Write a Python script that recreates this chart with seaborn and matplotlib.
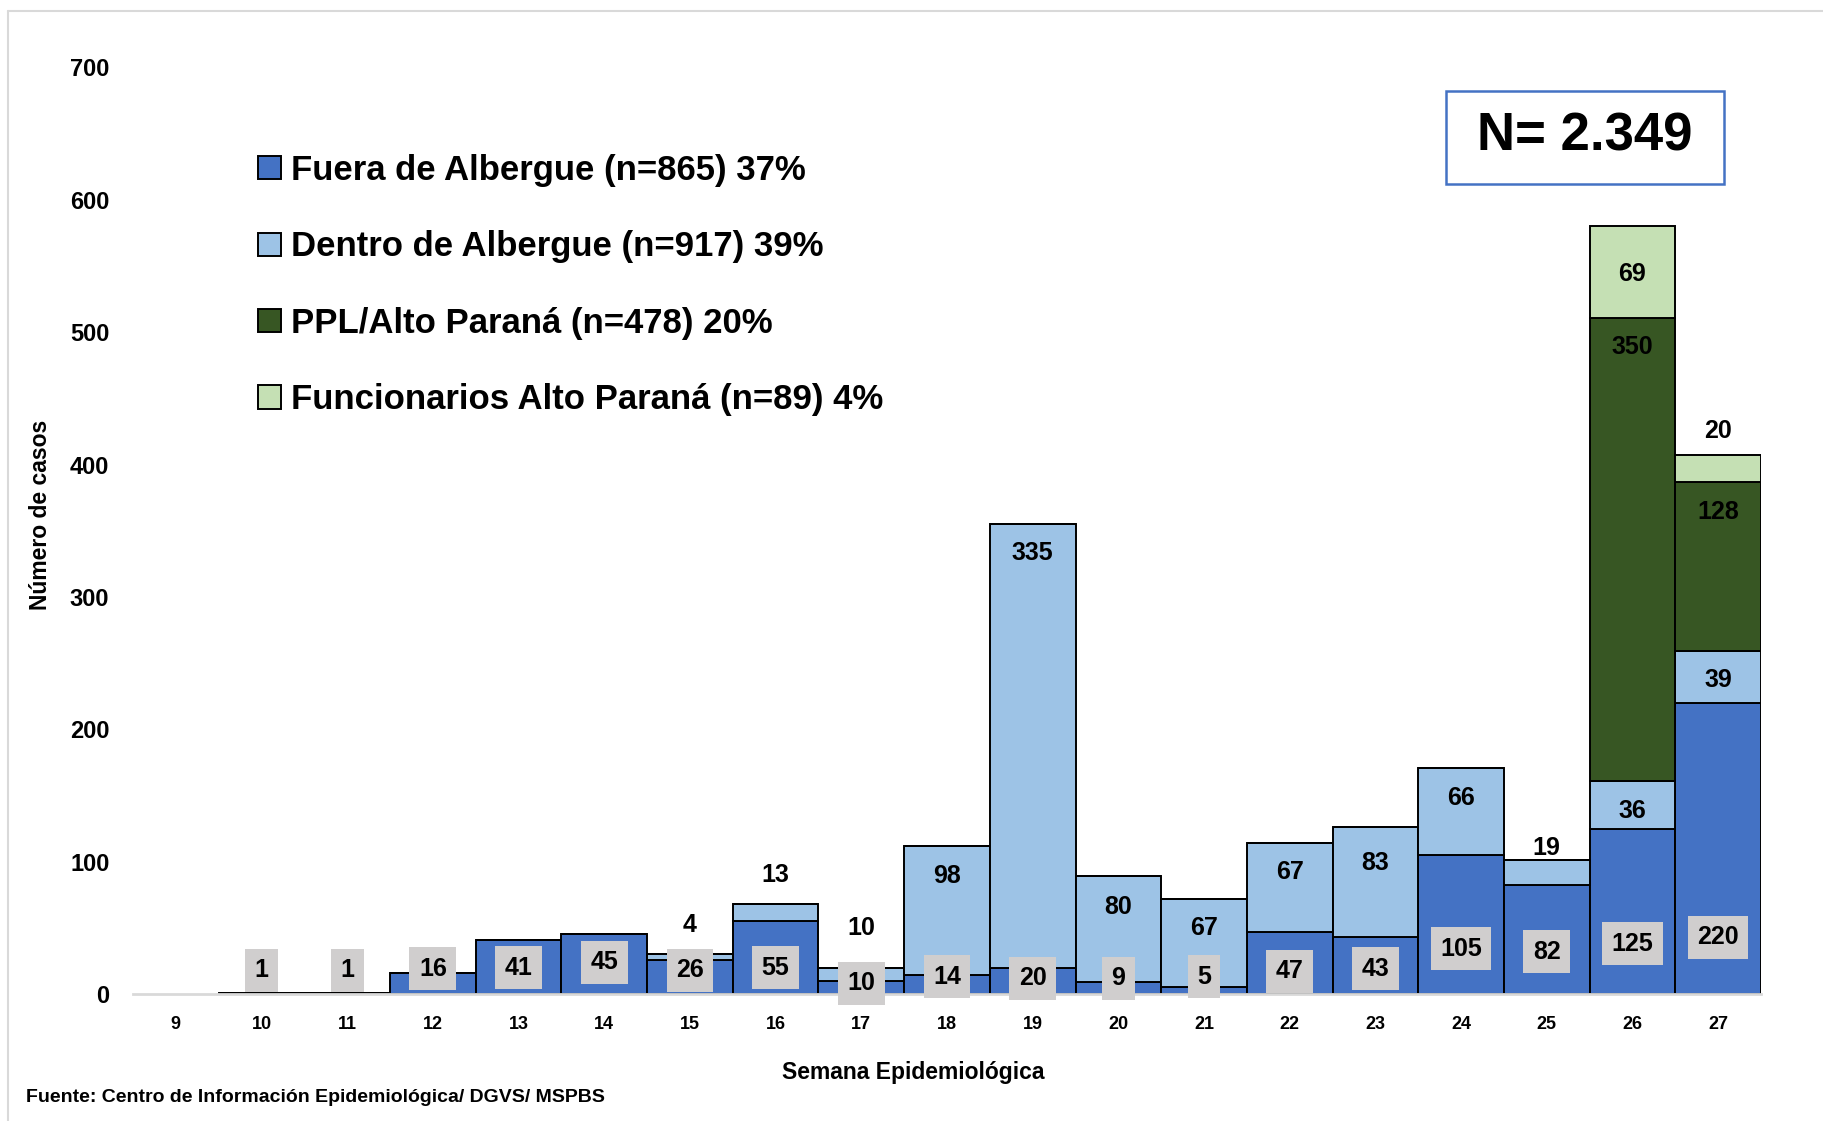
import pandas as pd
import matplotlib
matplotlib.use("Agg")
import matplotlib.pyplot as plt
from matplotlib import font_manager
from matplotlib.patches import Patch, Rectangle
from matplotlib.lines import Line2D
import seaborn as sns

# datos por semana epidemiologica
semanas = [9, 10, 11, 12, 13, 14, 15, 16, 17, 18, 19, 20, 21, 22, 23, 24, 25, 26, 27]
fuera = [0, 1, 1, 16, 41, 45, 26, 55, 10, 14, 20, 9, 5, 47, 43, 105, 82, 125, 220]
dentro = [0, 0, 0, 0, 0, 0, 4, 13, 10, 98, 335, 80, 67, 67, 83, 66, 19, 36, 39]
ppl = [0, 0, 0, 0, 0, 0, 0, 0, 0, 0, 0, 0, 0, 0, 0, 0, 0, 350, 128]
funcionarios = [0, 0, 0, 0, 0, 0, 0, 0, 0, 0, 0, 0, 0, 0, 0, 0, 0, 69, 20]

grupos = ["Fuera de Albergue (n=865) 37%",
          "Dentro de Albergue (n=917) 39%",
          "PPL/Alto Paraná (n=478) 20%",
          "Funcionarios Alto Paraná (n=89) 4%"]
colores = ["#4472C4", "#9DC3E6", "#375623", "#C5E0B4"]

# posicion vertical de las etiquetas (ajuste manual como en el original)
pos_fuera = [None, 18, 18, 19, 20, 24, 18, 20, 8, 13, 12, 12, 13, 17, 19, 34, 32, 38, 43]
pos_dentro = [None, None, None, None, None, None, 52, 90, 50, 89, 333, 66, 50, 92, 99, 148, 110, 138, 237]
pos_ppl = {26: 489, 27: 364}
pos_func = {26: 544, 27: 425}

names = {f.name for f in font_manager.fontManager.ttflist}
narrow = "Liberation Sans Narrow" if "Liberation Sans Narrow" in names else "Liberation Sans"

sns.set_style("white")
plt.rcParams["font.family"] = [narrow, "DejaVu Sans"]
plt.rcParams["text.color"] = "black"
plt.rcParams["xtick.color"] = "black"
plt.rcParams["ytick.color"] = "black"

filas = []
totales = [a + b + c + d for a, b, c, d in zip(fuera, dentro, ppl, funcionarios)]
for g, vals in zip(grupos, [fuera, dentro, ppl, funcionarios]):
    for s, v, tot in zip(semanas, vals, totales):
        if tot > 0:
            filas.append({"semana": s, "grupo": g, "casos": v})
df = pd.DataFrame(filas)

fig = plt.figure(figsize=(18.24, 11.21), dpi=100)
ax = fig.add_axes([133 / 1824, (1121 - 994) / 1121, 1628 / 1824, 926.6 / 1121])

sns.histplot(data=df, x="semana", weights="casos", hue="grupo",
             hue_order=grupos[::-1], palette=dict(zip(grupos, colores)),
             multiple="stack", discrete=True, shrink=1, alpha=1,
             edgecolor="black", linewidth=1.4, legend=False, ax=ax)

ax.set_xlim(8.5, 27.5)
ax.set_ylim(0, 700)
ax.set_xticks(semanas)
ax.set_yticks(range(0, 701, 100))
ax.set_xlabel("")
ax.set_ylabel("")
ax.tick_params(axis="y", length=0, pad=17, labelsize=17, labelcolor="black")
ax.tick_params(axis="x", length=0, pad=16, labelsize=13, labelcolor="black")
for lab in ax.get_xticklabels() + ax.get_yticklabels():
    lab.set_fontweight("bold")
for sp in ["top", "right", "left"]:
    ax.spines[sp].set_visible(False)
ax.spines["bottom"].set_color("#D9D9D9")
ax.spines["bottom"].set_linewidth(2)

# etiquetas
for s, v, y in zip(semanas, fuera, pos_fuera):
    if v > 0:
        ax.text(s, y, str(v), ha="center", va="center", fontsize=18, fontweight="bold",
                bbox=dict(boxstyle="square,pad=0.38", facecolor="#D0CECE", edgecolor="none"))
for s, v, y in zip(semanas, dentro, pos_dentro):
    if v > 0:
        ax.text(s, y, str(v), ha="center", va="center", fontsize=18, fontweight="bold")
for s, v in zip(semanas, ppl):
    if v > 0:
        ax.text(s, pos_ppl[s], str(v), ha="center", va="center", fontsize=18, fontweight="bold")
for s, v in zip(semanas, funcionarios):
    if v > 0:
        ax.text(s, pos_func[s], str(v), ha="center", va="center", fontsize=18, fontweight="bold")

handles = [Patch(facecolor=c, edgecolor="black", linewidth=1.4) for c in colores]
fig.legend(handles, grupos, loc="upper left", bbox_to_anchor=(258 / 1824, (1121 - 154) / 1121),
           frameon=False, prop={"weight": "bold", "size": 25},
           handlelength=0.65, handleheight=0.65, handletextpad=0.3,
           labelspacing=1.25, borderpad=0, borderaxespad=0)

# caja N
fig.add_artist(Rectangle((1446 / 1824, (1121 - 184) / 1121), 278 / 1824, 93 / 1121,
                         transform=fig.transFigure, fill=False, edgecolor="#4472C4", linewidth=1.8))
fig.text(1585 / 1824, (1121 - 137) / 1121, "N= 2.349", ha="center", va="center",
         fontsize=38, fontweight="bold", family=["Liberation Sans", "DejaVu Sans"])

fig.text(41 / 1824, (1121 - 515) / 1121, "Número de casos", rotation=90, ha="center", va="center",
         fontsize=16.5, fontweight="bold")
fig.text(913 / 1824, (1121 - 1073) / 1121, "Semana Epidemiológica", ha="center", va="center",
         fontsize=16.5, fontweight="bold")
fig.text(26 / 1824, (1121 - 1098) / 1121, "Fuente: Centro de Información Epidemiológica/ DGVS/ MSPBS",
         ha="left", va="center", fontsize=14, fontweight="bold")

# marco gris de la figura
fig.add_artist(Line2D([8 / 1824, 1], [(1121 - 11) / 1121] * 2, transform=fig.transFigure,
                      color="#D9D9D9", linewidth=1.5))
fig.add_artist(Line2D([8 / 1824] * 2, [0, (1121 - 11) / 1121], transform=fig.transFigure,
                      color="#D9D9D9", linewidth=1.5))

fig.savefig("out.png", dpi=100)
